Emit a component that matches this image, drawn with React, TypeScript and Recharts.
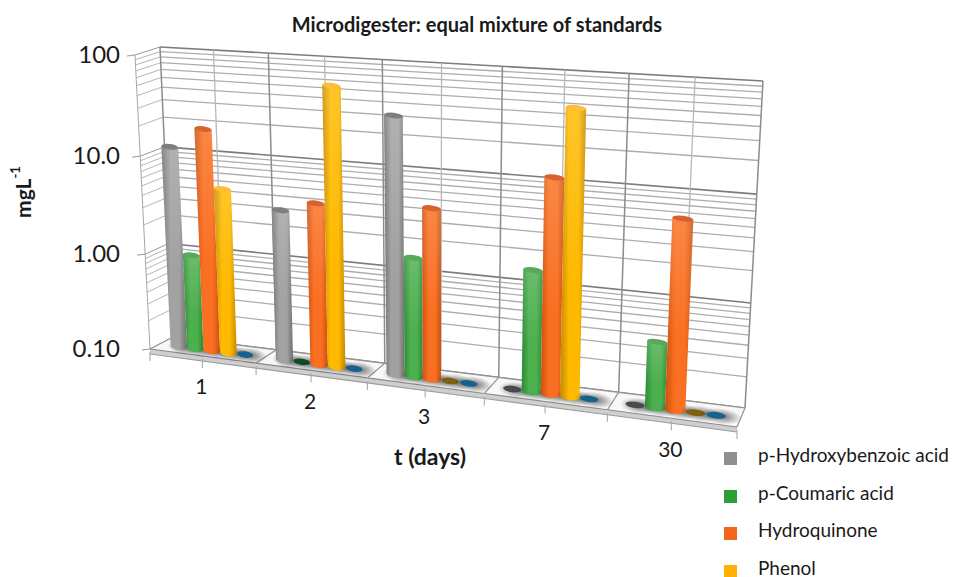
import { BarChart, Bar, XAxis, YAxis, CartesianGrid, Legend } from 'recharts'

const days = ['1', '2', '3', '7', '30']
// 0.1 is the floor of the log axis: those compounds show only as a flat disc
const hydroxybenzoic = [11.7, 3.4, 35, 0.1, 0.1]
const coumaric = [0.95, 0.1, 1.55, 1.55, 0.43]
const hydroquinone = [18.8, 4.3, 4.9, 12.1, 6.4]
const phenol = [4.9, 61, 0.1, 54, 0.1]
const fifthCompound = [0.1, 0.1, 0.1, 0.1, 0.1]

const majorTicks = [0.1, 1, 10, 100]
const minorTicks = [0.2, 0.3, 0.4, 0.5, 0.6, 0.7, 0.8, 0.9, 2, 3, 4, 5, 6, 7, 8, 9, 20, 30, 40, 50, 60, 70, 80, 90]
const tickLabels: Record<string, string> = { '0.1': '0.10', '1': '1.00', '10': '10.0', '100': '100' }

const data = days.map((day, i) => ({
  day,
  hydroxybenzoic: hydroxybenzoic[i],
  coumaric: coumaric[i],
  hydroquinone: hydroquinone[i],
  phenol: phenol[i],
  fifthCompound: fifthCompound[i],
}))

const FONT = 'Lato, "Open Sans", sans-serif'
const PLOT = { left: 160, top: 50, width: 600, height: 290 }
const BAR_DEPTH = 0.55

type Pt = { x: number; y: number }
type Quad = [Pt, Pt, Pt, Pt]

// corners run bottom-left, bottom-right, top-right, top-left
const backWall: Quad = [{ x: 173, y: 337 }, { x: 745, y: 408 }, { x: 763, y: 81 }, { x: 160, y: 47 }]
const frontFace: Quad = [{ x: 150, y: 349 }, { x: 737, y: 427 }, { x: 753, y: 96 }, { x: 135, y: 55 }]

// unit square to quad perspective mapping
function homography([p0, p1, p2, p3]: Quad) {
  const dx1 = p1.x - p2.x
  const dx2 = p3.x - p2.x
  const sx = p0.x - p1.x + p2.x - p3.x
  const dy1 = p1.y - p2.y
  const dy2 = p3.y - p2.y
  const sy = p0.y - p1.y + p2.y - p3.y
  const den = dx1 * dy2 - dx2 * dy1
  const g = (sx * dy2 - dx2 * sy) / den
  const h = (dx1 * sy - sx * dy1) / den
  const a = p1.x - p0.x + g * p1.x
  const b = p3.x - p0.x + h * p3.x
  const d = p1.y - p0.y + g * p1.y
  const e = p3.y - p0.y + h * p3.y
  return (u: number, v: number): Pt => {
    const w = g * u + h * v + 1
    return { x: (a * u + b * v + p0.x) / w, y: (d * u + e * v + p0.y) / w }
  }
}

const backMap = homography(backWall)
const frontMap = homography(frontFace)

// plot pixel + depth (0 back wall, 1 front edge) to screen position
function project(x: number, y: number, depth: number): Pt {
  const u = (x - PLOT.left) / PLOT.width
  const v = (PLOT.top + PLOT.height - y) / PLOT.height
  const b = backMap(u, v)
  const f = frontMap(u, v)
  return { x: b.x + (f.x - b.x) * depth, y: b.y + (f.y - b.y) * depth }
}

const isDecade = (y: number) => {
  const v = ((PLOT.top + PLOT.height - y) / PLOT.height) * 3
  return Math.abs(v - Math.round(v)) < 0.01
}

const seg = (a: Pt, b: Pt, stroke: string, width = 1) => (
  <line x1={a.x} y1={a.y} x2={b.x} y2={b.y} stroke={stroke} strokeWidth={width} />
)

function wallLine(p: any) {
  const dark = isDecade(p.y1)
  const stroke = dark ? '#7c7c7c' : '#adadad'
  const w = dark ? 1.6 : 1.3
  const left = project(PLOT.left, p.y1, 0)
  const right = project(PLOT.left + PLOT.width, p.y1, 0)
  const outer = project(PLOT.left, p.y1, 1)
  return (
    <g key={p.key ?? p.index}>
      {seg(left, right, stroke, w)}
      {seg(left, outer, dark ? '#999' : '#b6b6b6', 1)}
      {dark && seg(outer, { x: outer.x - 8, y: outer.y + 1 }, '#999', 1)}
    </g>
  )
}

function categoryCell(p: any) {
  const band = PLOT.width / days.length
  const bottom = PLOT.top + PLOT.height
  const xL = p.x1 - band / 2
  const xR = p.x1 + band / 2
  const isFirst = xL <= PLOT.left + 1
  const isLast = xR >= PLOT.left + PLOT.width - 1
  const backL = project(xL, bottom, 0)
  const backR = project(xR, bottom, 0)
  const frontL = project(xL, bottom, 1)
  const frontR = project(xR, bottom, 1)
  const midFront = project(p.x1, bottom, 1)
  const points = [backL, backR, frontR, frontL].map((q) => `${q.x},${q.y}`).join(' ')
  const slab = [frontL, frontR, { x: frontR.x, y: frontR.y + 5 }, { x: frontL.x, y: frontL.y + 5 }]
    .map((q) => `${q.x},${q.y}`)
    .join(' ')
  return (
    <g key={p.key ?? p.index}>
      {seg(project(p.x1, PLOT.top, 0), project(p.x1, bottom, 0), '#b8b8b8', 1.3)}
      {seg(project(xL, PLOT.top, 0), backL, '#8c8c8c', 1.5)}
      {isLast && seg(project(xR, PLOT.top, 0), backR, '#8c8c8c', 1.5)}
      {isFirst && seg(project(xL, PLOT.top, 1), frontL, '#a6a6a6', 1)}
      <polygon points={points} fill="#f8f8f8" />
      <polygon points={slab} fill="#cfcfcf" />
      {seg(backL, backR, '#949494', 1.2)}
      {seg(backL, frontL, '#949494', 1.2)}
      {isLast && seg(backR, frontR, '#949494', 1.2)}
      {seg(frontL, frontR, '#8a8a8a', 1.1)}
      {seg({ x: frontL.x, y: frontL.y + 5 }, { x: frontR.x, y: frontR.y + 5 }, '#9d9d9d', 1.1)}
      {seg({ x: midFront.x, y: midFront.y + 3 }, { x: midFront.x, y: midFront.y + 12 }, '#aaa', 1.1)}
      {seg({ x: frontL.x, y: frontL.y + 3 }, { x: frontL.x, y: frontL.y + 12 }, '#aaa', 1.1)}
      {isLast && seg({ x: frontR.x, y: frontR.y + 3 }, { x: frontR.x, y: frontR.y + 12 }, '#aaa', 1.1)}
    </g>
  )
}

function DayTick({ x, payload }: any) {
  const foot = project(x, PLOT.top + PLOT.height, 1)
  return (
    <text x={foot.x - 1} y={foot.y + 30} fontFamily={FONT} fontSize={21} fill="#1a1a1a" textAnchor="middle" dominantBaseline="central">
      {payload.value}
    </text>
  )
}

function ValueTick({ y, payload }: any) {
  const label = tickLabels[String(payload.value)]
  if (!label) return <g />
  const edge = project(PLOT.left, y, 1)
  return (
    <text x={120} y={edge.y - 2} fontFamily={FONT} fontSize={24} fill="#1a1a1a" textAnchor="end" dominantBaseline="central">
      {label}
    </text>
  )
}

type Shade = { id: string; edge: string; mid: string; top: string; disc: string }

const shades: Record<string, Shade> = {
  hydroxybenzoic: { id: 'hb', edge: '#707070', mid: '#a2a2a2', top: '#7e7e7e', disc: '#4a4a4a' },
  coumaric: { id: 'co', edge: '#2b8a35', mid: '#4db04f', top: '#58a95c', disc: '#0e4b24' },
  hydroquinone: { id: 'hq', edge: '#cc500e', mid: '#fa7022', top: '#d9602f', disc: '#a84a10' },
  phenol: { id: 'ph', edge: '#c48900', mid: '#ffba00', top: '#ffbe38', disc: '#7d6010' },
  fifthCompound: { id: 'fc', edge: '#125f96', mid: '#1c72b0', top: '#1c72b0', disc: '#15628f' },
}

// cylinder standing on the floor, drawn through the perspective mapping
function Cylinder({ x, y, width, height, shade }: any) {
  const tl = project(x, y, BAR_DEPTH)
  const tr = project(x + width, y, BAR_DEPTH)
  const bl = project(x, y + height, BAR_DEPTH)
  const br = project(x + width, y + height, BAR_DEPTH)
  const rxTop = Math.hypot(tr.x - tl.x, tr.y - tl.y) / 2
  const rxBase = Math.hypot(br.x - bl.x, br.y - bl.y) / 2
  const tilt = (Math.atan2(br.y - bl.y, br.x - bl.x) * 180) / Math.PI
  const base = { x: (bl.x + br.x) / 2, y: (bl.y + br.y) / 2 }
  const cap = { x: (tl.x + tr.x) / 2, y: (tl.y + tr.y) / 2 }
  const shadow = (
    <ellipse cx={base.x + 5} cy={base.y + 1} rx={rxBase * 2} ry={8} fill="url(#floorShadow)" transform={`rotate(${tilt} ${base.x + 5} ${base.y + 1})`} />
  )
  if (height < 1) {
    return (
      <g>
        {shadow}
        <ellipse cx={base.x} cy={base.y} rx={rxBase * 0.95} ry={3.2} fill={shade.disc} transform={`rotate(${tilt} ${base.x} ${base.y})`} />
      </g>
    )
  }
  const body = `M${tl.x} ${tl.y} L${bl.x} ${bl.y} A${rxBase} 4 ${tilt} 0 0 ${br.x} ${br.y} L${tr.x} ${tr.y} Z`
  return (
    <g>
      {shadow}
      <path d={body} fill={`url(#${shade.id})`} />
      <path d={body} fill="url(#sheen)" />
      <ellipse cx={cap.x} cy={cap.y} rx={rxTop} ry={2.8} fill={shade.top} transform={`rotate(${tilt} ${cap.x} ${cap.y})`} />
    </g>
  )
}

function LegendList({ payload }: any) {
  return (
    <div style={{ fontFamily: FONT, fontSize: 19, color: '#1a1a1a' }}>
      {(payload ?? [])
        .filter((entry: any) => entry.type !== 'none')
        .map((entry: any) => (
          <div key={entry.value} style={{ display: 'flex', alignItems: 'center', height: 37.5 }}>
            <span style={{ width: 13, height: 13, marginTop: 8, marginRight: 21, background: entry.color, flex: 'none' }} />
            <span style={{ whiteSpace: 'nowrap' }}>{entry.value}</span>
          </div>
        ))}
    </div>
  )
}

const seriesRender = (key: string) => (props: any) => <Cylinder {...props} shade={shades[key]} />

export default function App() {
  return (
    <div style={{ position: 'absolute', left: 0, top: 0 }}>
      <BarChart
        width={954}
        height={577}
        data={data}
        margin={{ top: PLOT.top, right: 954 - PLOT.left - PLOT.width, left: 0, bottom: 577 - PLOT.top - PLOT.height - 30 }}
        barCategoryGap="10%"
        barGap={0}
      >
        <defs>
          {Object.values(shades).map((s) => (
            <linearGradient key={s.id} id={s.id} x1="0" y1="0" x2="1" y2="0">
              <stop offset="0" stopColor={s.edge} />
              <stop offset="0.35" stopColor={s.mid} />
              <stop offset="0.7" stopColor={s.mid} />
              <stop offset="1" stopColor={s.edge} />
            </linearGradient>
          ))}
          <linearGradient id="sheen" x1="0" y1="0" x2="0" y2="1">
            <stop offset="0" stopColor="#fff" stopOpacity={0.16} />
            <stop offset="0.6" stopColor="#fff" stopOpacity={0} />
          </linearGradient>
          <radialGradient id="floorShadow">
            <stop offset="0.3" stopColor="#000" stopOpacity={0.4} />
            <stop offset="1" stopColor="#000" stopOpacity={0} />
          </radialGradient>
        </defs>
        <CartesianGrid syncWithTicks horizontal={wallLine} vertical={categoryCell} />
        <XAxis dataKey="day" height={30} axisLine={false} tickLine={false} interval={0} tick={DayTick} />
        <YAxis
          width={PLOT.left}
          scale="log"
          domain={[0.1, 100]}
          ticks={[...majorTicks, ...minorTicks].sort((a, b) => a - b)}
          interval={0}
          axisLine={false}
          tickLine={false}
          tick={ValueTick}
        />
        <Legend
          layout="horizontal"
          align="center"
          verticalAlign="middle"
          itemSorter={null}
          wrapperStyle={{ left: 724, top: 436, width: 230 }}
          content={LegendList}
        />
        <Bar dataKey="hydroxybenzoic" name="p-Hydroxybenzoic acid" fill="#8f8f8f" isAnimationActive={false} shape={seriesRender('hydroxybenzoic')} />
        <Bar dataKey="coumaric" name="p-Coumaric acid" fill="#2e9e36" isAnimationActive={false} shape={seriesRender('coumaric')} />
        <Bar dataKey="hydroquinone" name="Hydroquinone" fill="#f2651c" isAnimationActive={false} shape={seriesRender('hydroquinone')} />
        <Bar dataKey="phenol" name="Phenol" fill="#ffb000" isAnimationActive={false} shape={seriesRender('phenol')} />
        <Bar dataKey="fifthCompound" legendType="none" fill="#1c72b0" isAnimationActive={false} shape={seriesRender('fifthCompound')} />
        <text x={477} y={24} textAnchor="middle" dominantBaseline="central" fontFamily={FONT} fontWeight={700} fontSize={20} fill="#1a1a1a">
          Microdigester: equal mixture of standards
        </text>
        <text transform="translate(22 192) rotate(-90)" textAnchor="middle" dominantBaseline="central" fontFamily={FONT} fontWeight={700} fontSize={21} fill="#1a1a1a">
          mgL<tspan dy={-7} fontSize={13}>-1</tspan>
        </text>
        <text x={430} y={456} textAnchor="middle" dominantBaseline="central" fontFamily={FONT} fontWeight={700} fontSize={23} fill="#1a1a1a">
          t (days)
        </text>
      </BarChart>
    </div>
  )
}
